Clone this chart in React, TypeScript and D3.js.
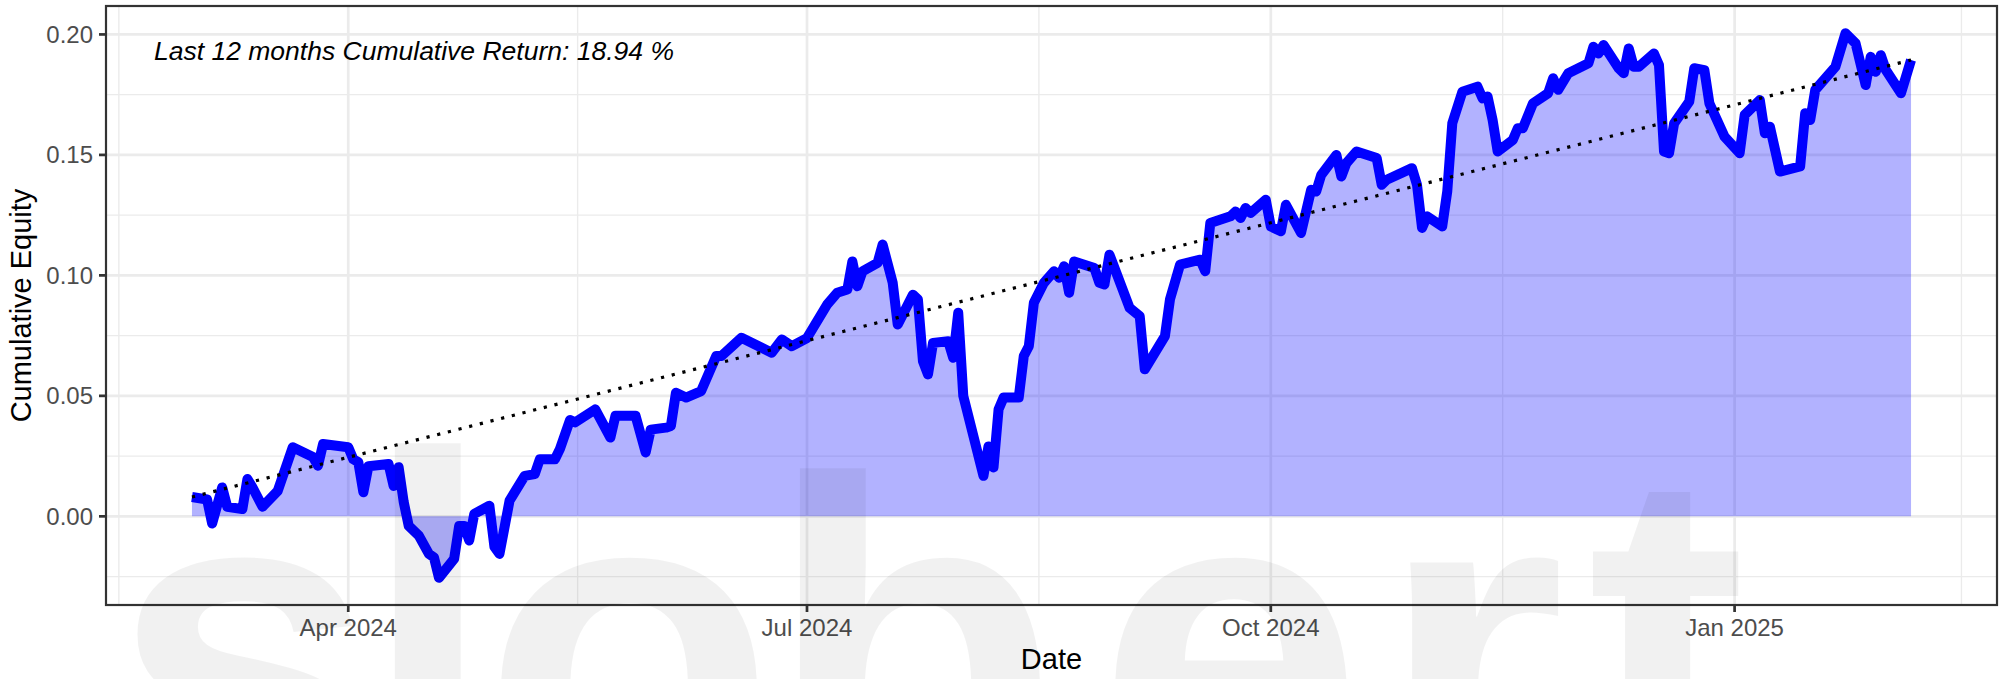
import { useEffect, useRef } from 'react';
import * as d3 from 'd3';

// trading days (roughly every turning point)
const dates = [
  '2024-03-01', '2024-03-04', '2024-03-05', '2024-03-07', '2024-03-08', '2024-03-11', '2024-03-12', '2024-03-13',
  '2024-03-15', '2024-03-18', '2024-03-21', '2024-03-25', '2024-03-26', '2024-03-27', '2024-04-01', '2024-04-02',
  '2024-04-03', '2024-04-04', '2024-04-05', '2024-04-09', '2024-04-10', '2024-04-11', '2024-04-12', '2024-04-13',
  '2024-04-15', '2024-04-17', '2024-04-18', '2024-04-19', '2024-04-22', '2024-04-23', '2024-04-24', '2024-04-25',
  '2024-04-26', '2024-04-29', '2024-04-30', '2024-05-01', '2024-05-03', '2024-05-06', '2024-05-08', '2024-05-09',
  '2024-05-12', '2024-05-13', '2024-05-15', '2024-05-16', '2024-05-20', '2024-05-23', '2024-05-24', '2024-05-28',
  '2024-05-30', '2024-05-31', '2024-06-03', '2024-06-04', '2024-06-05', '2024-06-07', '2024-06-10', '2024-06-13',
  '2024-06-14', '2024-06-18', '2024-06-24', '2024-06-26', '2024-06-28', '2024-07-01', '2024-07-05', '2024-07-07',
  '2024-07-09', '2024-07-10', '2024-07-11', '2024-07-12', '2024-07-15', '2024-07-16', '2024-07-18', '2024-07-19',
  '2024-07-22', '2024-07-23', '2024-07-24', '2024-07-25', '2024-07-26', '2024-07-29', '2024-07-30', '2024-07-31',
  '2024-08-01', '2024-08-05', '2024-08-06', '2024-08-07', '2024-08-08', '2024-08-09', '2024-08-12', '2024-08-13',
  '2024-08-14', '2024-08-15', '2024-08-17', '2024-08-19', '2024-08-20', '2024-08-21', '2024-08-22', '2024-08-23',
  '2024-08-27', '2024-08-28', '2024-08-29', '2024-08-30', '2024-09-03', '2024-09-05', '2024-09-06', '2024-09-10',
  '2024-09-11', '2024-09-13', '2024-09-17', '2024-09-18', '2024-09-19', '2024-09-23', '2024-09-24', '2024-09-25',
  '2024-09-26', '2024-09-27', '2024-09-30', '2024-10-01', '2024-10-03', '2024-10-04', '2024-10-07', '2024-10-09',
  '2024-10-10', '2024-10-11', '2024-10-14', '2024-10-15', '2024-10-16', '2024-10-18', '2024-10-22', '2024-10-23',
  '2024-10-24', '2024-10-29', '2024-10-30', '2024-10-31', '2024-11-01', '2024-11-04', '2024-11-05', '2024-11-06',
  '2024-11-08', '2024-11-11', '2024-11-12', '2024-11-13', '2024-11-14', '2024-11-15', '2024-11-18', '2024-11-19',
  '2024-11-20', '2024-11-22', '2024-11-25', '2024-11-26', '2024-11-27', '2024-11-29', '2024-12-03', '2024-12-04',
  '2024-12-05', '2024-12-06', '2024-12-09', '2024-12-10', '2024-12-11', '2024-12-12', '2024-12-13', '2024-12-16',
  '2024-12-17', '2024-12-18', '2024-12-19', '2024-12-20', '2024-12-23', '2024-12-24', '2024-12-26', '2024-12-27',
  '2024-12-30', '2025-01-02', '2025-01-03', '2025-01-06', '2025-01-07', '2025-01-08', '2025-01-10', '2025-01-14',
  '2025-01-15', '2025-01-16', '2025-01-17', '2025-01-21', '2025-01-23', '2025-01-25', '2025-01-27', '2025-01-28',
  '2025-01-29', '2025-01-30', '2025-01-31', '2025-02-03', '2025-02-05',
];

const equity = [
  0.008, 0.007, -0.003, 0.012, 0.004, 0.003, 0.0155, 0.012,
  0.004, 0.0105, 0.0287, 0.0246, 0.021, 0.030, 0.0287, 0.0237,
  0.0225, 0.010, 0.0208, 0.0217, 0.0126, 0.0204, 0.006, -0.004,
  -0.008, -0.0156, -0.017, -0.0255, -0.0177, -0.004, -0.004, -0.010,
  0.001, 0.0044, -0.0127, -0.0156, 0.0065, 0.0168, 0.0175, 0.0237,
  0.0237, 0.028, 0.040, 0.039, 0.0444, 0.0327, 0.0417, 0.0417,
  0.0265, 0.036, 0.0368, 0.0375, 0.0513, 0.0493, 0.052, 0.0665,
  0.0665, 0.0741, 0.0679, 0.0734, 0.0706, 0.074, 0.0879, 0.0928,
  0.0941, 0.1058, 0.0955, 0.1017, 0.1052, 0.1128, 0.0969, 0.0796,
  0.092, 0.090, 0.0644, 0.0589, 0.072, 0.0727, 0.0658, 0.0845,
  0.050, 0.0168, 0.029, 0.0203, 0.0444, 0.0493, 0.0493, 0.0665,
  0.0706, 0.0886, 0.0969, 0.1017, 0.099, 0.1038, 0.0928, 0.1058,
  0.1031, 0.0969, 0.0962, 0.1086, 0.0865, 0.0831, 0.061, 0.0748,
  0.090, 0.1045, 0.1065, 0.1017, 0.1217, 0.1245, 0.1265, 0.1238,
  0.128, 0.1259, 0.1314, 0.1203, 0.1183, 0.1293, 0.1176, 0.1355,
  0.1348, 0.1417, 0.150, 0.141, 0.1466, 0.1514, 0.1487, 0.1376,
  0.1397, 0.1445, 0.1376, 0.1197, 0.1245, 0.1203, 0.1348, 0.1631,
  0.1762, 0.1783, 0.1735, 0.1742, 0.1645, 0.1514, 0.1562, 0.1611,
  0.1611, 0.1714, 0.1756, 0.1818, 0.177, 0.1839, 0.188, 0.1949,
  0.1921, 0.1956, 0.186, 0.1839, 0.1942, 0.1866, 0.1866, 0.1921,
  0.1873, 0.1514, 0.1507, 0.1631, 0.1721, 0.186, 0.1852, 0.1714,
  0.1576, 0.1507, 0.1666, 0.1728, 0.159, 0.1617, 0.1431, 0.1452,
  0.1673, 0.1645, 0.177, 0.1866, 0.2005, 0.1963, 0.179, 0.1907,
  0.1845, 0.1914, 0.1852, 0.1756, 0.1894,
];

const xTickDates = ['2024-04-01', '2024-07-01', '2024-10-01', '2025-01-01'];
const xTickLabels = ['Apr 2024', 'Jul 2024', 'Oct 2024', 'Jan 2025'];
const yTicks = [0, 0.05, 0.1, 0.15, 0.2];
const yTickLabels = ['0.00', '0.05', '0.10', '0.15', '0.20'];

const annotationText = 'Last 12 months Cumulative Return: 18.94 %';
const xTitle = 'Date';
const yTitle = 'Cumulative Equity';
// watermark glyphs, only their tops are visible below the plot
const watermarkLetters = ['s', 'l', 'o', 'b', 'e', 'r', 't'];
const watermarkCenters = [244, 428, 629, 913, 1230, 1472, 1667];

const WIDTH = 2007;
const HEIGHT = 679;
const margin = { top: 6, right: 10, bottom: 74, left: 106 };
const FONT = '"Liberation Sans", Arial, Helvetica, sans-serif';

export default function App() {
  const svgRef = useRef<SVGSVGElement>(null);

  useEffect(() => {
    if (!svgRef.current) return;
    const svg = d3.select(svgRef.current);
    svg.selectAll('*').remove();

    const parse = d3.utcParse('%Y-%m-%d');
    const data = dates.map((d, i) => ({ date: parse(d) as Date, value: equity[i] }));

    const left = margin.left;
    const right = WIDTH - margin.right;
    const top = margin.top;
    const bottom = HEIGHT - margin.bottom;

    // ggplot style 5% expansion on both axes
    const tExt = d3.extent(data, d => d.date.getTime()) as [number, number];
    const tPad = (tExt[1] - tExt[0]) * 0.05;
    const x = d3.scaleUtc()
      .domain([new Date(tExt[0] - tPad), new Date(tExt[1] + tPad)])
      .range([left, right]);

    const vExt = d3.extent(data, d => d.value) as [number, number];
    const vPad = (vExt[1] - vExt[0]) * 0.05;
    const y = d3.scaleLinear()
      .domain([vExt[0] - vPad, vExt[1] + vPad])
      .range([bottom, top]);

    svg.append('rect').attr('width', WIDTH).attr('height', HEIGHT).attr('fill', '#ffffff');

    // grid
    const majorX = xTickDates.map(d => parse(d) as Date);
    const extX = [d3.utcMonth.offset(majorX[0], -3), ...majorX, d3.utcMonth.offset(majorX[majorX.length - 1], 3)];
    const [d0, d1] = x.domain();
    const minorX = d3.pairs(extX)
      .map(([a, b]) => new Date((a.getTime() + b.getTime()) / 2))
      .filter(d => d >= d0 && d <= d1);
    const yStep = yTicks[1] - yTicks[0];
    const minorY = [yTicks[0] - yStep, ...yTicks].map(v => v + yStep / 2)
      .filter(v => v >= y.domain()[0] && v <= y.domain()[1]);

    const grid = svg.append('g').attr('stroke', '#ebebeb').attr('fill', 'none');
    grid.selectAll('line.minor-y').data(minorY).enter().append('line')
      .attr('x1', left).attr('x2', right).attr('y1', d => y(d)).attr('y2', d => y(d))
      .attr('stroke-width', 1.36);
    grid.selectAll('line.minor-x').data(minorX).enter().append('line')
      .attr('y1', top).attr('y2', bottom).attr('x1', d => x(d)).attr('x2', d => x(d))
      .attr('stroke-width', 1.36);
    grid.selectAll('line.major-y').data(yTicks).enter().append('line')
      .attr('x1', left).attr('x2', right).attr('y1', d => y(d)).attr('y2', d => y(d))
      .attr('stroke-width', 2.72);
    grid.selectAll('line.major-x').data(majorX).enter().append('line')
      .attr('y1', top).attr('y2', bottom).attr('x1', d => x(d)).attr('x2', d => x(d))
      .attr('stroke-width', 2.72);

    // area from zero
    const area = d3.area<{ date: Date; value: number }>()
      .x(d => x(d.date))
      .y0(y(0))
      .y1(d => y(d.value));
    svg.append('path').datum(data).attr('d', area)
      .attr('fill', 'blue').attr('fill-opacity', 0.3);

    const line = d3.line<{ date: Date; value: number }>()
      .x(d => x(d.date))
      .y(d => y(d.value));
    svg.append('path').datum(data).attr('d', line)
      .attr('fill', 'none').attr('stroke', 'blue').attr('stroke-width', 10)
      .attr('stroke-linejoin', 'round').attr('stroke-linecap', 'butt');

    // dotted trend from first to last observation
    const ends = [data[0], data[data.length - 1]];
    svg.append('path').datum(ends).attr('d', line)
      .attr('fill', 'none').attr('stroke', '#000').attr('stroke-width', 3.2)
      .attr('stroke-dasharray', '3.2 7.8');

    // panel border
    svg.append('rect')
      .attr('x', left).attr('y', top).attr('width', right - left).attr('height', bottom - top)
      .attr('fill', 'none').attr('stroke', '#333333').attr('stroke-width', 2.2);

    // axes
    const ticks = svg.append('g').attr('stroke', '#333333').attr('stroke-width', 2.72);
    ticks.selectAll('line.xt').data(majorX).enter().append('line')
      .attr('x1', d => x(d)).attr('x2', d => x(d)).attr('y1', bottom).attr('y2', bottom + 7);
    ticks.selectAll('line.yt').data(yTicks).enter().append('line')
      .attr('x1', left - 7).attr('x2', left).attr('y1', d => y(d)).attr('y2', d => y(d));

    svg.append('g').selectAll('text').data(majorX).enter().append('text')
      .attr('x', d => x(d)).attr('y', bottom + 31)
      .attr('text-anchor', 'middle').attr('font-family', FONT).attr('font-size', 24)
      .attr('fill', '#4d4d4d')
      .text((_, i) => xTickLabels[i]);

    svg.append('g').selectAll('text').data(yTicks).enter().append('text')
      .attr('x', left - 13).attr('y', d => y(d) + 8.5)
      .attr('text-anchor', 'end').attr('font-family', FONT).attr('font-size', 24)
      .attr('fill', '#4d4d4d')
      .text((_, i) => yTickLabels[i]);

    svg.append('text')
      .attr('x', (left + right) / 2).attr('y', 669)
      .attr('text-anchor', 'middle').attr('font-family', FONT).attr('font-size', 29)
      .attr('fill', '#000')
      .text(xTitle);

    svg.append('text')
      .attr('transform', `translate(31,${(top + bottom) / 2}) rotate(-90)`)
      .attr('text-anchor', 'middle').attr('font-family', FONT).attr('font-size', 29)
      .attr('fill', '#000')
      .text(yTitle);

    svg.append('text')
      .attr('x', 154).attr('y', 60)
      .attr('font-family', FONT).attr('font-size', 26.5).attr('font-style', 'italic')
      .attr('fill', '#000')
      .text(annotationText);

    // faint watermark across the lower part of the figure
    svg.append('g')
      .attr('font-family', FONT).attr('font-size', 480).attr('font-weight', 'bold')
      .attr('text-anchor', 'middle').attr('fill', '#000').attr('fill-opacity', 0.055)
      .selectAll('text').data(watermarkLetters).enter().append('text')
      .attr('x', (_, i) => watermarkCenters[i])
      .attr('y', d => (d === 'l' ? 791 : d === 't' ? 805 : 816))
      .text(d => d);
  }, []);

  return (
    <div style={{ width: WIDTH, height: HEIGHT }}>
      <style>{'body{margin:0}'}</style>
      <svg ref={svgRef} width={WIDTH} height={HEIGHT} style={{ display: 'block' }}></svg>
    </div>
  );
}
